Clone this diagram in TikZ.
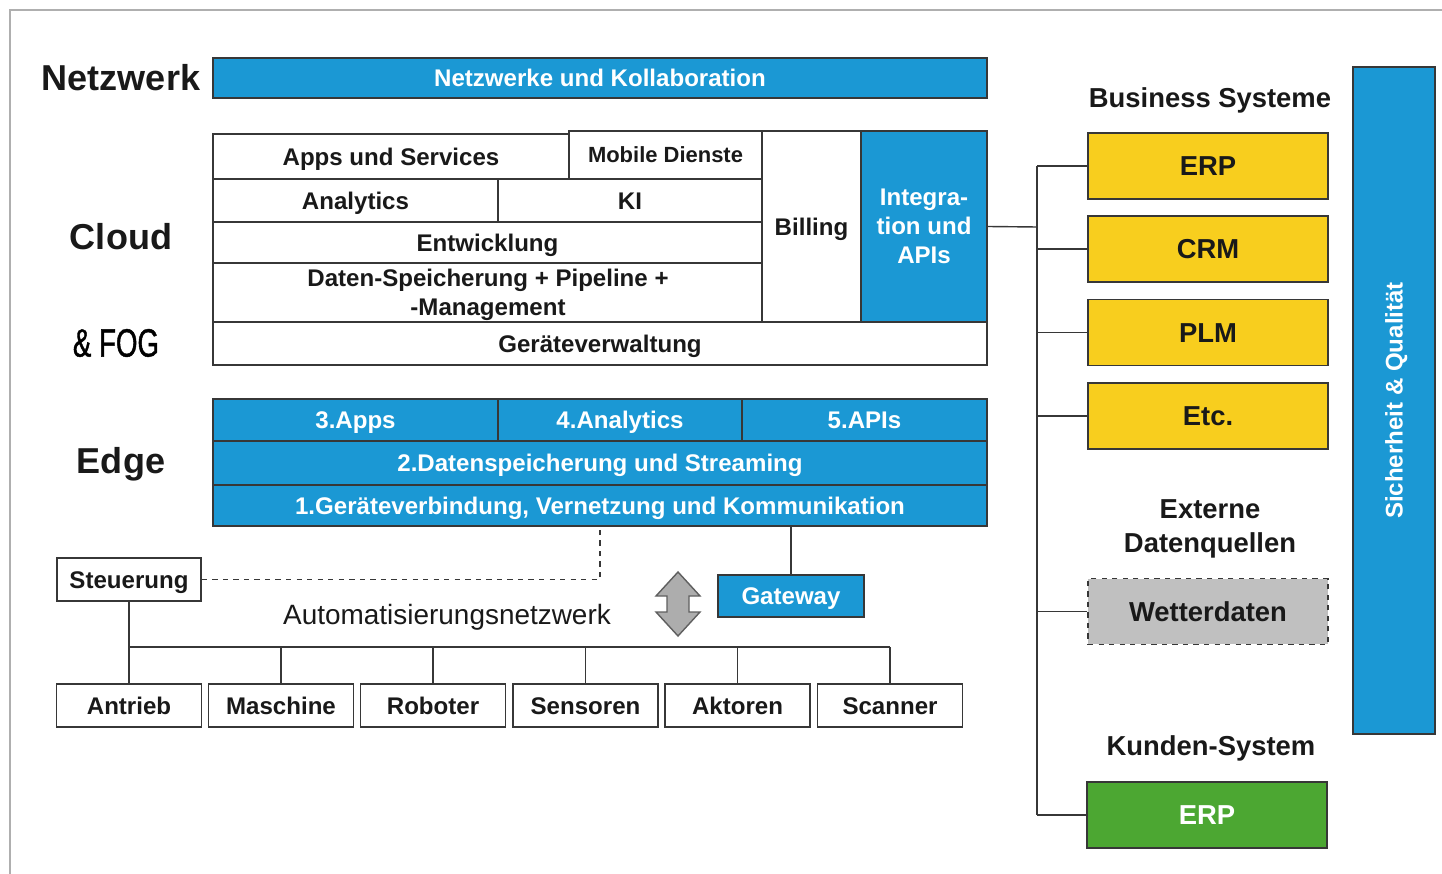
\documentclass[tikz,border=0pt]{standalone}
\usepackage{fontspec}
\setmainfont{Liberation Sans}
\newfontfamily\fogfont[FakeStretch=0.7,FakeBold=1]{Liberation Sans}
\usetikzlibrary{calc}
\definecolor{iot_blue}{RGB}{27,152,212}
\definecolor{sys_yellow}{RGB}{248,206,30}
\definecolor{sys_green}{RGB}{76,167,50}
\definecolor{ext_gray}{RGB}{192,192,192}
\definecolor{line_gray}{RGB}{55,55,55}
\definecolor{frame_gray}{RGB}{175,175,175}
\definecolor{txt_dark}{RGB}{25,25,25}
\tikzstyle{wb}=[rectangle,draw=line_gray,fill=white,line width=0.8pt,inner sep=0pt,
  align=center,text=txt_dark,text height=12pt,text depth=2.2pt,
  font=\bfseries\fontsize{13.7}{16.5}\selectfont]
\tikzstyle{bb}=[wb,fill=iot_blue,text=white]
\tikzstyle{yb}=[wb,fill=sys_yellow,minimum width=4.8cm,minimum height=1.32cm,
  text height=13.5pt,text depth=2.3pt,font=\bfseries\fontsize{15.6}{18}\selectfont]
\tikzstyle{dev}=[wb,minimum width=2.9cm,minimum height=0.86cm]
\tikzstyle{lay}=[text=txt_dark,font=\bfseries\fontsize{20.5}{24}\selectfont]
\tikzstyle{hd}=[text=txt_dark,align=center,font=\bfseries\fontsize{15.6}{19.3}\selectfont]
\tikzstyle{wire}=[draw=line_gray,line width=0.8pt]

\begin{document}
\begin{tikzpicture}[x=0.02cm, y=-0.02cm]
    \useasboundingbox (0,0) rectangle (1442,874);
    \draw [frame_gray, line width=1pt] (10,874) -- (10,10) -- (1442,10);

    \node [style=lay] (lnet) at (121,78) {Netzwerk};
    \node [style=lay] (lcloud) at (121,237) {Cloud};
    \node [text=black, font=\fogfont\fontsize{22.5}{26}\selectfont] (lfog) at (116,343) {\& FOG};
    \node [style=lay] (ledge) at (121,464) {Edge};

    \node [style=bb, minimum width=15.48cm, minimum height=0.8cm] (net) at (600,78) {Netzwerke und Kollaboration};

    \node [style=wb, minimum width=7.12cm, minimum height=0.9cm] (apps) at (391,156.5) {Apps und Services};
    \node [style=wb, minimum width=3.86cm, minimum height=0.96cm, text height=11pt, text depth=2pt,
      font=\bfseries\fontsize{12.5}{15}\selectfont] (mob) at (665.5,155) {Mobile Dienste};
    \node [style=wb, minimum width=5.7cm, minimum height=0.86cm] (ana) at (355.5,200.5) {Analytics};
    \node [style=wb, minimum width=5.28cm, minimum height=0.86cm] (ki) at (630,200.5) {KI};
    \node [style=wb, minimum width=10.98cm, minimum height=0.82cm] (entw) at (487.5,242.5) {Entwicklung};
    \node [style=wb, minimum width=10.98cm, minimum height=1.18cm] (daten) at (487.5,292.5) {};
    \node [align=center, text=txt_dark, font=\bfseries\fontsize{13.7}{16.5}\selectfont] (datentxt)
      at (488,295) {Daten-Speicherung + Pipeline +\\-Management};
    \node [style=wb, minimum width=1.98cm, minimum height=3.82cm] (bill) at (811.5,226.5) {Billing};
    \node [style=bb, minimum width=2.52cm, minimum height=3.82cm, text height={}, text depth={}] (integ)
      at (924,226.5) {Integra-\\tion und\\APIs};
    \node [style=wb, minimum width=15.48cm, minimum height=0.86cm] (gvw) at (600,343.5) {Geräteverwaltung};

    \node [style=bb, minimum width=5.7cm, minimum height=0.84cm] (eapps) at (355.5,420) {3.Apps};
    \node [style=bb, minimum width=4.88cm, minimum height=0.84cm] (eana) at (620,420) {4.Analytics};
    \node [style=bb, minimum width=4.9cm, minimum height=0.84cm] (eapi) at (864.5,420) {5.APIs};
    \node [style=bb, minimum width=15.48cm, minimum height=0.88cm] (estr) at (600,463) {2.Datenspeicherung und Streaming};
    \node [style=bb, minimum width=15.48cm, minimum height=0.82cm] (geraete) at (600,505.5)
      {1.Geräteverbindung, Vernetzung und Kommunikation};

    \node [style=wb, minimum width=2.88cm, minimum height=0.86cm] (steu) at (129,579.5) {Steuerung};
    \node [style=bb, minimum width=2.92cm, minimum height=0.84cm] (gw) at (791,596) {Gateway};
    \node [text=txt_dark, font=\fontsize{15.9}{18}\selectfont] (autnet) at (447,617) {Automatisierungsnetzwerk};
    \draw [fill=ext_gray!90!black, draw=line_gray!80, line width=0.8pt] (678,572) -- (700,596) -- (689,596) -- (689,612)
      -- (700,612) -- (678,636) -- (656,612) -- (667,612) -- (667,596) -- (656,596) -- cycle;

    \node [style=dev] (antr) at (129,705.5) {Antrieb};
    \node [style=dev] (masch) at (281,705.5) {Maschine};
    \node [style=dev] (robo) at (433,705.5) {Roboter};
    \node [style=dev] (sens) at (585.5,705.5) {Sensoren};
    \node [style=dev] (akt) at (737.5,705.5) {Aktoren};
    \node [style=dev] (scan) at (890,705.5) {Scanner};

    \coordinate (busL) at (129,647);
    \coordinate (busR) at (890,647);
    \draw [style=wire] (busL) -- (busR);
    \draw [style=wire] (steu) -- (antr);
    \draw [style=wire] (masch.north) -- (masch.north |- busL);
    \draw [style=wire] (robo.north) -- (robo.north |- busL);
    \draw [style=wire] (sens.north) -- (sens.north |- busL);
    \draw [style=wire] (akt.north) -- (akt.north |- busL);
    \draw [style=wire] (scan.north) -- (scan.north |- busL);
    \draw [style=wire, dashed] (steu.east) -- (steu.east -| geraete.south) -- (geraete.south);
    \draw [style=wire] (gw.north) -- (gw.north |- geraete.south);

    \node [style=hd] (lbus) at (1210,100) {Business Systeme};
    \node [style=yb] (erp) at (1208,166) {ERP};
    \node [style=yb] (crm) at (1208,249) {CRM};
    \node [style=yb] (plm) at (1208,332.5) {PLM};
    \node [style=yb] (etc) at (1208,416) {Etc.};
    \node [style=hd] (lext) at (1210,529) {Externe\\Datenquellen};
    \node [style=yb, fill=ext_gray, dashed] (wetter) at (1208,611.5) {Wetterdaten};
    \node [style=hd] (lkun) at (1211,748) {Kunden-System};
    \node [style=yb, fill=sys_green, text=white] (kerp) at (1207,815) {ERP};
    \node [style=bb, rotate=90, minimum width=13.34cm, minimum height=1.64cm] (sq) at (1394,400.5)
      {Sicherheit \& Qualität};

    \coordinate (br) at (1037,227);
    \draw [style=wire] (integ.east) -- (br);
    \draw [style=wire] (erp.west -| br) -- (kerp.west -| br);
    \draw [style=wire] (erp.west) -- (erp.west -| br);
    \draw [style=wire] (crm.west) -- (crm.west -| br);
    \draw [style=wire] (plm.west) -- (plm.west -| br);
    \draw [style=wire] (etc.west) -- (etc.west -| br);
    \draw [style=wire] (wetter.west) -- (wetter.west -| br);
    \draw [style=wire] (kerp.west) -- (kerp.west -| br);
\end{tikzpicture}
\end{document}
